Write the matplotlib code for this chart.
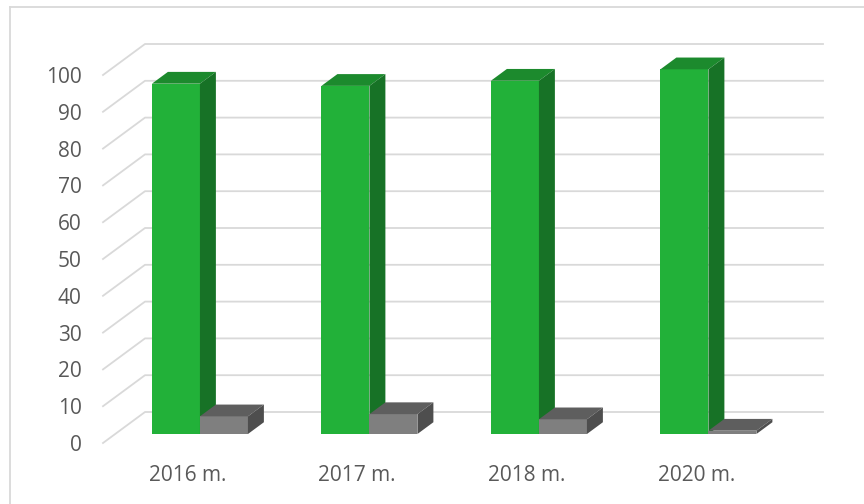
#!/usr/bin/env python3
"""Excel-style pseudo-3D column chart, two series per year."""
import matplotlib
matplotlib.use("Agg")
import matplotlib.pyplot as plt
from matplotlib.patches import Polygon
from matplotlib.lines import Line2D

years = ["2016 m.", "2017 m.", "2018 m.", "2020 m."]
green_vals = [95.2, 94.6, 96.0, 99.1]
gray_vals = [4.8, 5.4, 4.0, 0.9]
yticks = list(range(0, 101, 10))

# faces: front, top, side
GREEN = ("#22b139", "#1c8a2d", "#177226")
GRAY = ("#7f7f7f", "#5e5e5e", "#4e4e4e")
GRID = "#d9d9d9"
TXT = "#595959"

plt.rcParams["font.family"] = ["Open Sans", "DejaVu Sans"]

fig = plt.figure(figsize=(8.64, 5.04), dpi=100)
ax = fig.add_axes([103 / 864, 61 / 504, 678 / 864, 368 / 504])
ax.set_xlim(0, len(years))
ax.set_ylim(0, 100)

# oblique depth of the whole box (data units)
DX = 42 / 169.5
DY = 31 / 3.68
BAR_D0, BAR_D1 = 0.29, 0.67
BAR_W = 48 / 169.5

# gridlines: left wall diagonal + back wall horizontal
for v in yticks:
    ax.add_line(Line2D([0, DX, len(years) + DX], [v, v + DY, v + DY],
                       color=GRID, lw=1.3, clip_on=False, zorder=1))


def box(x0, val, cols):
    ox, oy = BAR_D0 * DX, BAR_D0 * DY
    bx, by = (BAR_D1 - BAR_D0) * DX, (BAR_D1 - BAR_D0) * DY
    x0 += ox
    x1 = x0 + BAR_W
    top = oy + val
    ax.bar(x0, val, width=BAR_W, bottom=oy, align="edge", color=cols[0],
           lw=0, clip_on=False, zorder=3)
    ax.add_patch(Polygon([(x0, top), (x1, top), (x1 + bx, top + by),
                          (x0 + bx, top + by)], closed=True, fc=cols[1],
                         lw=0, clip_on=False, zorder=3))
    ax.add_patch(Polygon([(x1, oy), (x1 + bx, oy + by), (x1 + bx, top + by),
                          (x1, top)], closed=True, fc=cols[2], lw=0,
                         clip_on=False, zorder=3))


for i, (g, s) in enumerate(zip(green_vals, gray_vals)):
    c = i + 0.5
    box(c - BAR_W, g, GREEN)
    box(c, s, GRAY)

ax.set_yticks(yticks)
ax.set_yticklabels([str(v) for v in yticks])
ax.set_xticks([i + 0.5 for i in range(len(years))])
ax.set_xticklabels(years)
ax.tick_params(axis="y", length=0, pad=15.5, labelsize=15, labelcolor=TXT)
ax.tick_params(axis="x", length=0, pad=15.5, labelsize=15, labelcolor=TXT)
for sp in ax.spines.values():
    sp.set_visible(False)
ax.patch.set_alpha(0)

# chart border (only left and top edges fall inside the picture)
fig.add_artist(Line2D([10 / 864, 10 / 864], [0, 1 - 7 / 504], color=GRID,
                      lw=1.3, transform=fig.transFigure))
fig.add_artist(Line2D([10 / 864, 1], [1 - 7 / 504, 1 - 7 / 504], color=GRID,
                      lw=1.3, transform=fig.transFigure))

fig.savefig("out.png", dpi=100)
